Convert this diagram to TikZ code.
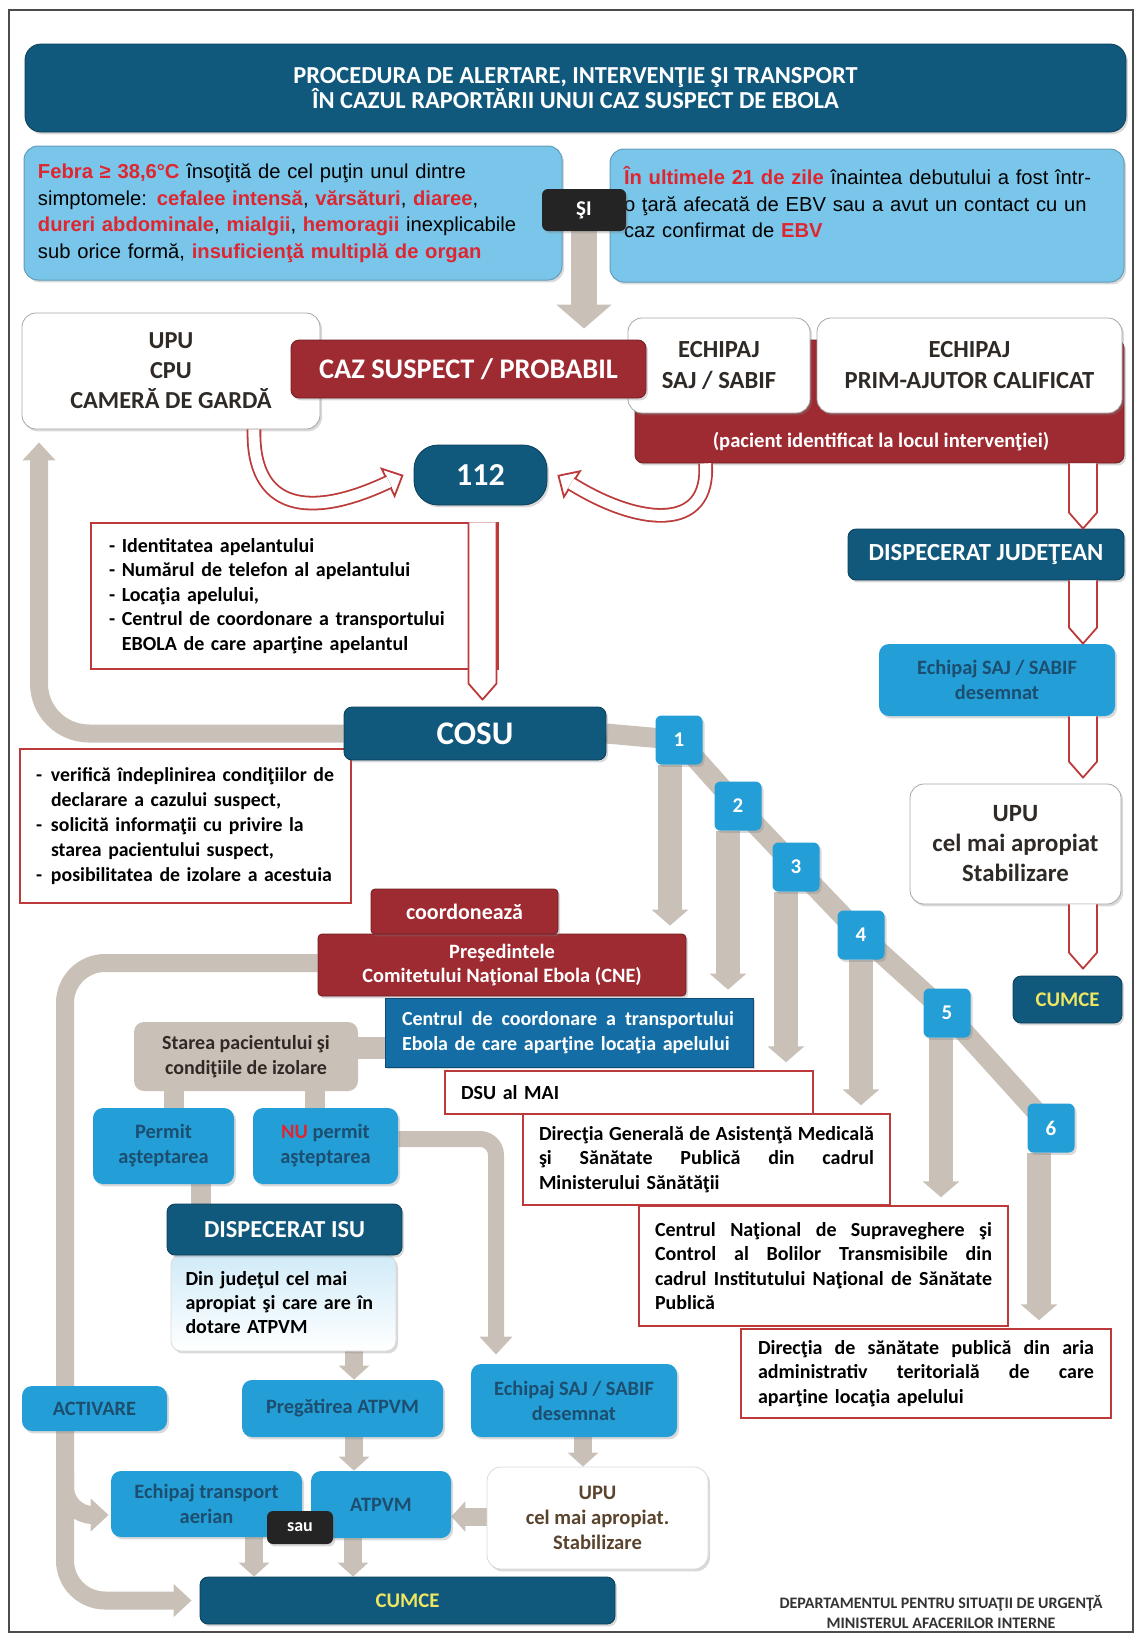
\documentclass[tikz,border=0pt]{standalone}
\usepackage{fontspec}
\setmainfont{Carlito}
\newfontfamily\arialf{Liberation Sans}
\usetikzlibrary{arrows.meta,shadows,backgrounds,calc}

\definecolor{dkblue}{RGB}{16,88,124}
\definecolor{ltblue}{RGB}{122,198,234}
\definecolor{mdblue}{RGB}{36,158,214}
\definecolor{cblue}{RGB}{20,110,165}
\definecolor{txtblue}{RGB}{28,78,112}
\definecolor{dkred}{RGB}{158,42,50}
\definecolor{lred}{RGB}{188,58,58}
\definecolor{txtred}{RGB}{222,38,48}
\definecolor{taupe}{RGB}{201,192,183}
\definecolor{cyel}{RGB}{236,230,96}
\definecolor{nearblk}{RGB}{36,36,36}
\definecolor{txtdark}{RGB}{48,42,38}

\newcommand{\fsz}[2]{\fontsize{#1}{#2}\selectfont}
\newcommand{\jl}[2][168pt]{{\spaceskip=0pt\xspaceskip=0pt\makebox[#1][s]{#2}}}
\newcommand{\rd}[1]{\textcolor{txtred}{\textbf{#1}}}
\newcommand{\hollowdown}[2]{%
  \draw[hollowred] let \p1=#1, \p2=#2 in
    (\x2-7pt,\y1) -- (\x2-7pt,\y2+8pt) -- (\x2,\y2) -- (\x2+7pt,\y2+8pt) -- (\x2+7pt,\y1);}

\tikzstyle{boxshadow}=[drop shadow={shadow xshift=1pt, shadow yshift=-1.2pt, opacity=0.3}]
\tikzstyle{darkbox}=[rounded corners=4pt, fill=dkblue, draw=dkblue!70!black, text=white, align=center, boxshadow]
\tikzstyle{condbox}=[rounded corners=7pt, fill=ltblue, draw=ltblue!80!black, line width=0.5pt, align=left, inner xsep=7pt, boxshadow]
\tikzstyle{blackbox}=[rounded corners=3pt, fill=nearblk, text=white, boxshadow]
\tikzstyle{whitebox}=[rounded corners=7pt, fill=white, draw=black!35, line width=0.4pt, text=txtdark, align=center, boxshadow]
\tikzstyle{redbox}=[rounded corners=4pt, fill=dkred, draw=dkred!70!black, text=white, align=center, boxshadow]
\tikzstyle{outbox}=[draw=lred, line width=0.7pt, fill=white, align=left, text=black, font=\bfseries\fsz{10}{12.25}]
\tikzstyle{cbluebox}=[fill=cblue, draw=cblue!70!black, text=white, align=left, boxshadow]
\tikzstyle{mdbox}=[rounded corners=5pt, fill=mdblue, text=txtblue, align=center, font=\bfseries\fsz{10.2}{12.5}, boxshadow]
\tikzstyle{taupebox}=[rounded corners=5pt, fill=taupe, text=txtdark, align=center]
\tikzstyle{lightbox}=[rounded corners=5pt, top color=ltblue!35, bottom color=white, draw=black!15, align=left, text=black, boxshadow]
\tikzstyle{stepbox}=[rounded corners=3pt, fill=mdblue, text=white, font=\bfseries\fsz{10.5}{12}, minimum width=23.5pt, minimum height=24.5pt, boxshadow]
\tikzstyle{grayline}=[draw=taupe, line width=10pt]
\tikzstyle{grayarrow}=[draw=taupe, line width=9pt, -{Triangle[width=16pt,length=9pt]}]
\tikzstyle{bigarrow}=[draw=taupe, line width=13pt, -{Triangle[width=27pt,length=12pt]}]
\tikzstyle{steparrow}=[draw=taupe, line width=12pt, -{Triangle[width=18pt,length=8pt]}, shorten >=4pt]
\tikzstyle{fatarrow}=[draw=taupe, line width=9pt, -{Triangle[width=15pt,length=7pt]}]
\tikzstyle{hollowred}=[draw=lred, line width=0.9pt, fill=white, line join=round]

\begin{document}
\begin{tikzpicture}[x=0.5pt,y=-0.5pt]
\useasboundingbox (0,0) rectangle (1138,1634);
\coordinate (leftRail) at (39,0);
\coordinate (midRail) at (65,0);
\coordinate (colR) at (1083,0);
\coordinate (colI) at (482.5,0);

% titlu si criterii
\node[darkbox, rounded corners=8pt, minimum width=550.5pt, minimum height=44pt, font=\bfseries\fsz{12.2}{12.5}] (title) at (575.5,88)
	{PROCEDURA DE ALERTARE, INTERVENŢIE ŞI TRANSPORT\\ÎN CAZUL RAPORTĂRII UNUI CAZ SUSPECT DE EBOLA};
\node[condbox, minimum width=269pt, minimum height=67pt, text width=255pt, font=\arialf\fsz{10.1}{13.3}] (condL) at (293,213)
	{\rd{Febra ≥ 38,6°C} însoţită de cel puţin unul dintre\\simptomele: \rd{cefalee intensă}, \rd{vărsături}, \rd{diaree},\\\rd{dureri abdominale}, \rd{mialgii}, \rd{hemoragii} inexplicabile\\sub orice formă, \rd{insuficienţă multiplă de organ}};
\node[condbox, minimum width=257pt, minimum height=66.5pt, text width=243pt, font=\arialf\fsz{10.1}{13.3}] (condR) at (867,215.5)
	{\rd{În ultimele 21 de zile} înaintea debutului a fost într-\\o ţară afecată de EBV sau a avut un contact cu un\\caz confirmat de \rd{EBV}\\\mbox{}};
\node[blackbox, minimum width=42pt, minimum height=21pt, font=\bfseries\fsz{10.5}{12}] (si) at (584,210) {ŞI};
%
\node[whitebox, minimum width=149pt, minimum height=58pt, font=\bfseries\fsz{12.2}{15}] (upuL) at (171,371) {UPU\\CPU\\CAMERĂ DE GARDĂ};
\node[redbox, minimum width=244.5pt, minimum height=61.5pt] (backing) at (879.5,401.5) {};
\node[text=white, font=\bfseries\fsz{10.3}{12}] (pacient) at (881,442) {(pacient identificat la locul intervenţiei)};
\node[whitebox, minimum width=91pt, minimum height=47.5pt, font=\bfseries\fsz{12.3}{15.5}] (sajT) at (719,365.5) {ECHIPAJ\\SAJ / SABIF};
\node[whitebox, minimum width=152.5pt, minimum height=47.5pt, font=\bfseries\fsz{12.3}{15.5}] (prim) at (969.5,365.5) {ECHIPAJ\\PRIM-AJUTOR CALIFICAT};
\node[redbox, minimum width=177.5pt, minimum height=29pt, font=\bfseries\fsz{14.2}{16}] (caz) at (468.5,369) {CAZ SUSPECT / PROBABIL};
\node[darkbox, rounded corners=12pt, minimum width=66.5pt, minimum height=30pt, font=\bfseries\fsz{16}{18}] (n112) at (480.5,475) {112};

% apel 112 si COSU
\node[outbox, minimum width=203.5pt, minimum height=73pt, text width=185.5pt, inner xsep=9pt] (info) at (294.5,596)
	{- Identitatea apelantului\\- Numărul de telefon al apelantului\\- Locaţia apelului,\\- Centrul de coordonare a transportului\\\phantom{- }EBOLA de care aparţine apelantul};
\node[outbox, minimum width=165.5pt, minimum height=77pt, text width=149.5pt, inner xsep=8pt, font=\bfseries\fsz{9.9}{12.4}] (cosuTxt) at (185.5,826)
	{\makebox[7.5pt][l]{-}verifică îndeplinirea condiţiilor de\\\hspace*{7.5pt}declarare a cazului suspect,\\\makebox[7.5pt][l]{-}solicită informaţii cu privire la\\\hspace*{7.5pt}starea pacientului suspect,\\\makebox[7.5pt][l]{-}posibilitatea de izolare a acestuia};
\node[darkbox, minimum width=131pt, minimum height=26.5pt, font=\bfseries\fsz{16.5}{18}] (cosu) at (475,733.5) {COSU};

% institutii notificate
\node[redbox, rounded corners=2pt, minimum width=184pt, minimum height=31pt, font=\bfseries\fsz{10.2}{12}] (cne) at (502,965) {Preşedintele\\Comitetului Naţional Ebola (CNE)};
\node[redbox, rounded corners=2pt, minimum width=93.5pt, minimum height=22.5pt, font=\bfseries\fsz{11}{12}] (coord) at (464.5,911.5) {coordonează};
\node[cbluebox, minimum width=184pt, minimum height=34.5pt, text width=167pt, inner xsep=8.5pt, font=\bfseries\fsz{10}{12.5}] (centru) at (569,1032.5)
	{\jl[166pt]{Centrul de coordonare a transportului}\\Ebola de care aparţine locaţia apelului};
\node[outbox, minimum width=184pt, minimum height=21.5pt, text width=168pt, inner xsep=8pt] (dsu) at (629,1092.5) {DSU al MAI};
\node[outbox, minimum width=183.5pt, minimum height=45.5pt, text width=167.5pt, inner xsep=8pt] (dg) at (706.5,1159.5)
	{\jl[167.5pt]{Direcţia Generală de Asistenţă Medicală}\\\jl[167.5pt]{şi Sănătate Publică din cadrul}\\Ministerului Sănătăţii};
\node[outbox, minimum width=184.5pt, minimum height=60pt, text width=168.5pt, inner xsep=8pt] (cn) at (823.5,1266)
	{\jl[168.5pt]{Centrul Naţional de Supraveghere şi}\\\jl[168.5pt]{Control al Bolilor Transmisibile din}\\\jl[168.5pt]{cadrul Institutului Naţional de Sănătate}\\Publică};
\node[outbox, minimum width=185pt, minimum height=44.5pt, text width=168pt, inner xsep=8.5pt] (ds) at (926,1373.5)
	{\jl[168pt]{Direcţia de sănătate publică din aria}\\\jl[168pt]{administrativ teritorială de care}\\aparţine locaţia apelului};
\foreach \n/\x/\y in {1/679/740, 2/738/806, 3/796/867, 4/861/935, 5/947/1013, 6/1051/1128}
	\node[stepbox] (s\n) at (\x,\y) {\n};

% coloana dreapta
\node[darkbox, minimum width=138pt, minimum height=25.5pt, font=\bfseries\fsz{12.3}{14}] (dispJ) at (986,554.5) {DISPECERAT JUDEŢEAN};
\node[mdbox, minimum width=118pt, minimum height=36pt] (sajR) at (997,680) {Echipaj SAJ / SABIF\\desemnat};
\node[whitebox, minimum width=105.5pt, minimum height=60pt, font=\bfseries\fsz{12.4}{15}] (upuR) at (1015.5,844) {UPU\\cel mai apropiat\\Stabilizare};
\node[darkbox, minimum width=54.5pt, minimum height=23.5pt, text=cyel, font=\bfseries\fsz{10.4}{12}] (cumceR) at (1067.5,999.5) {CUMCE};

% transport
\node[taupebox, minimum width=112pt, minimum height=34.5pt, font=\bfseries\fsz{10}{12.2}] (starea) at (246,1056.5) {Starea pacientului şi\\condiţiile de izolare};
\node[mdbox, minimum width=70.5pt, minimum height=38pt] (permit) at (163.5,1146) {Permit\\aşteptarea};
\node[mdbox, minimum width=72.5pt, minimum height=38pt] (nupermit) at (325.5,1146) {\textcolor{txtred}{NU} permit\\aşteptarea};
\node[lightbox, minimum width=112.5pt, minimum height=48pt, text width=98pt, inner xsep=7pt, font=\bfseries\fsz{10}{12}] (isuTxt) at (283.5,1303)
	{Din judeţul cel mai\\apropiat şi care are în\\dotare ATPVM};
\node[darkbox, minimum width=117.5pt, minimum height=25.5pt, font=\bfseries\fsz{12.2}{14}] (isu) at (284.5,1229.5) {DISPECERAT ISU};
\node[mdbox, minimum width=72.5pt, minimum height=22.5pt] (activ) at (94.5,1408.5) {ACTIVARE};
\node[mdbox, minimum width=100.5pt, minimum height=28.5pt] (preg) at (342.5,1408.5) {Pregătirea ATPVM};
\node[mdbox, minimum width=103pt, minimum height=36.5pt] (sajB) at (574,1400.5) {Echipaj SAJ / SABIF\\desemnat};
\node[mdbox, minimum width=95.5pt, minimum height=33pt] (aer) at (206.5,1504) {Echipaj transport\\aerian};
\node[mdbox, minimum width=70pt, minimum height=33.5pt] (atpvm) at (381,1504.5) {ATPVM};
\node[blackbox, minimum width=33pt, minimum height=16.5pt, font=\bfseries\fsz{9}{10}] (sau) at (300,1527.5) {sau};
\node[whitebox, draw=black!15, minimum width=110.5pt, minimum height=51pt, text=txtdark!70!brown, font=\bfseries\fsz{10.3}{12.5}] (upuB) at (597.5,1518) {UPU\\cel mai apropiat.\\Stabilizare};
\node[darkbox, minimum width=207.5pt, minimum height=23.5pt, text=cyel, font=\bfseries\fsz{10.4}{12}] (cumceB) at (407.5,1600.5) {CUMCE};
\node[text=black!80, align=center, inner sep=0pt, font=\bfseries\fsz{8}{10}] (footer) at (941,1612)
	{DEPARTAMENTUL PENTRU SITUAŢII DE URGENŢĂ\\MINISTERUL AFACERILOR INTERNE};

% legaturi gri
\begin{scope}[on background layer]
	\draw[black!70, line width=0.6pt] (9,10) rectangle (1133,1632);
	\draw[bigarrow] (si.south) -- ([yshift=-5.5pt]si.south |- sajT.north);
	\draw[grayarrow, rounded corners=25pt] (cosu.west) -| ([yshift=-6.5pt]upuL.south -| leftRail);
	\draw[grayline] (cosu.east) -- (s1.center);
	\draw[grayline] (s1.center) -- (s2.center) -- (s3.center) -- (s4.center) -- (s5.center) -- (s6.center);
	\foreach \n/\dx/\t in {1/-4.5pt/cne, 2/-5pt/centru, 3/-5pt/dsu, 4/0pt/dg, 5/-3pt/cn, 6/-6pt/ds}
		\draw[steparrow] ([xshift=\dx]s\n.south) -- ([xshift=\dx]s\n.south |- \t.north);
	\draw[grayarrow, rounded corners=20pt, shorten >=4pt] ([yshift=1pt]cne.west) -| (midRail |- cumceB.west) -- (cumceB.west);
	\draw[grayarrow, rounded corners=14pt, shorten >=1pt] ([yshift=16pt]aer.west -| midRail) |- ([yshift=-5.5pt]aer.west);
	\draw[grayline, line width=11pt] ([yshift=4.5pt]starea.east) -- ([yshift=4.5pt]starea.east -| centru.west);
	\draw[grayline] ([xshift=5.25pt]permit.north) -- ([xshift=5.25pt]permit.north |- starea.south);
	\draw[grayline] ([xshift=-5.25pt]nupermit.north) -- ([xshift=-5.25pt]nupermit.north |- starea.south);
	\draw[grayline] ([xshift=18.75pt]permit.south) -- ([xshift=18.75pt]permit.south |- isu.north);
	\draw[grayarrow, line width=8pt, rounded corners=8pt, shorten >=4.5pt] ([yshift=3.5pt]nupermit.east) -| ([xshift=-39pt]sajB.north);
	\draw[fatarrow] ([xshift=5.75pt]preg.north |- isuTxt.south) -- ([xshift=5.75pt]preg.north);
	\draw[fatarrow] ([xshift=5.75pt]preg.south) -- ([xshift=5.75pt]preg.south |- atpvm.north);
	\draw[fatarrow] ([xshift=23.75pt]aer.south) -- ([xshift=23.75pt]aer.south |- cumceB.north);
	\draw[fatarrow] ([xshift=-14pt]atpvm.south) -- ([xshift=-14pt]atpvm.south |- cumceB.north);
	\draw[fatarrow] ([xshift=4.5pt]sajB.south) -- ([xshift=4.5pt]sajB.south |- upuB.north);
	\draw[fatarrow] ([yshift=-6pt]atpvm.east -| upuB.west) -- ([yshift=-6pt]atpvm.east);
\end{scope}

% sageti rosii
\hollowdown{(backing.south -| colR)}{(dispJ.north -| colR)}
\hollowdown{(dispJ.south -| colR)}{(sajR.north -| colR)}
\hollowdown{(sajR.south -| colR)}{([yshift=3pt]upuR.north -| colR)}
\hollowdown{(upuR.south -| colR)}{([yshift=3.5pt]cumceR.north -| colR)}
\hollowdown{(info.north -| colI)}{([yshift=3.5pt]cosu.north -| colI)}
\draw[white, line width=0.3pt, -{Triangle[color=lred, fill=white, width=17pt, length=9pt, line width=0.9pt]}]
	([xshift=41.5pt]upuL.south) .. controls +(-2,80) and +(-95,45) .. ([xshift=-5pt]n112.west);
\draw[lred, line width=0.9pt, double=white, double distance=5.5pt, shorten >=8pt]
	([xshift=41.5pt]upuL.south) .. controls +(-2,80) and +(-95,45) .. ([xshift=-5pt]n112.west);
\draw[white, line width=0.3pt, -{Triangle[color=lred, fill=white, width=17pt, length=9pt, line width=0.9pt]}]
	([xshift=-87pt]backing.south) .. controls +(5,70) and +(80,50) .. ([xshift=5pt]n112.east);
\draw[lred, line width=0.9pt, double=white, double distance=5.5pt, shorten >=8pt]
	([xshift=-87pt]backing.south) .. controls +(5,70) and +(80,50) .. ([xshift=5pt]n112.east);
\end{tikzpicture}
\end{document}
